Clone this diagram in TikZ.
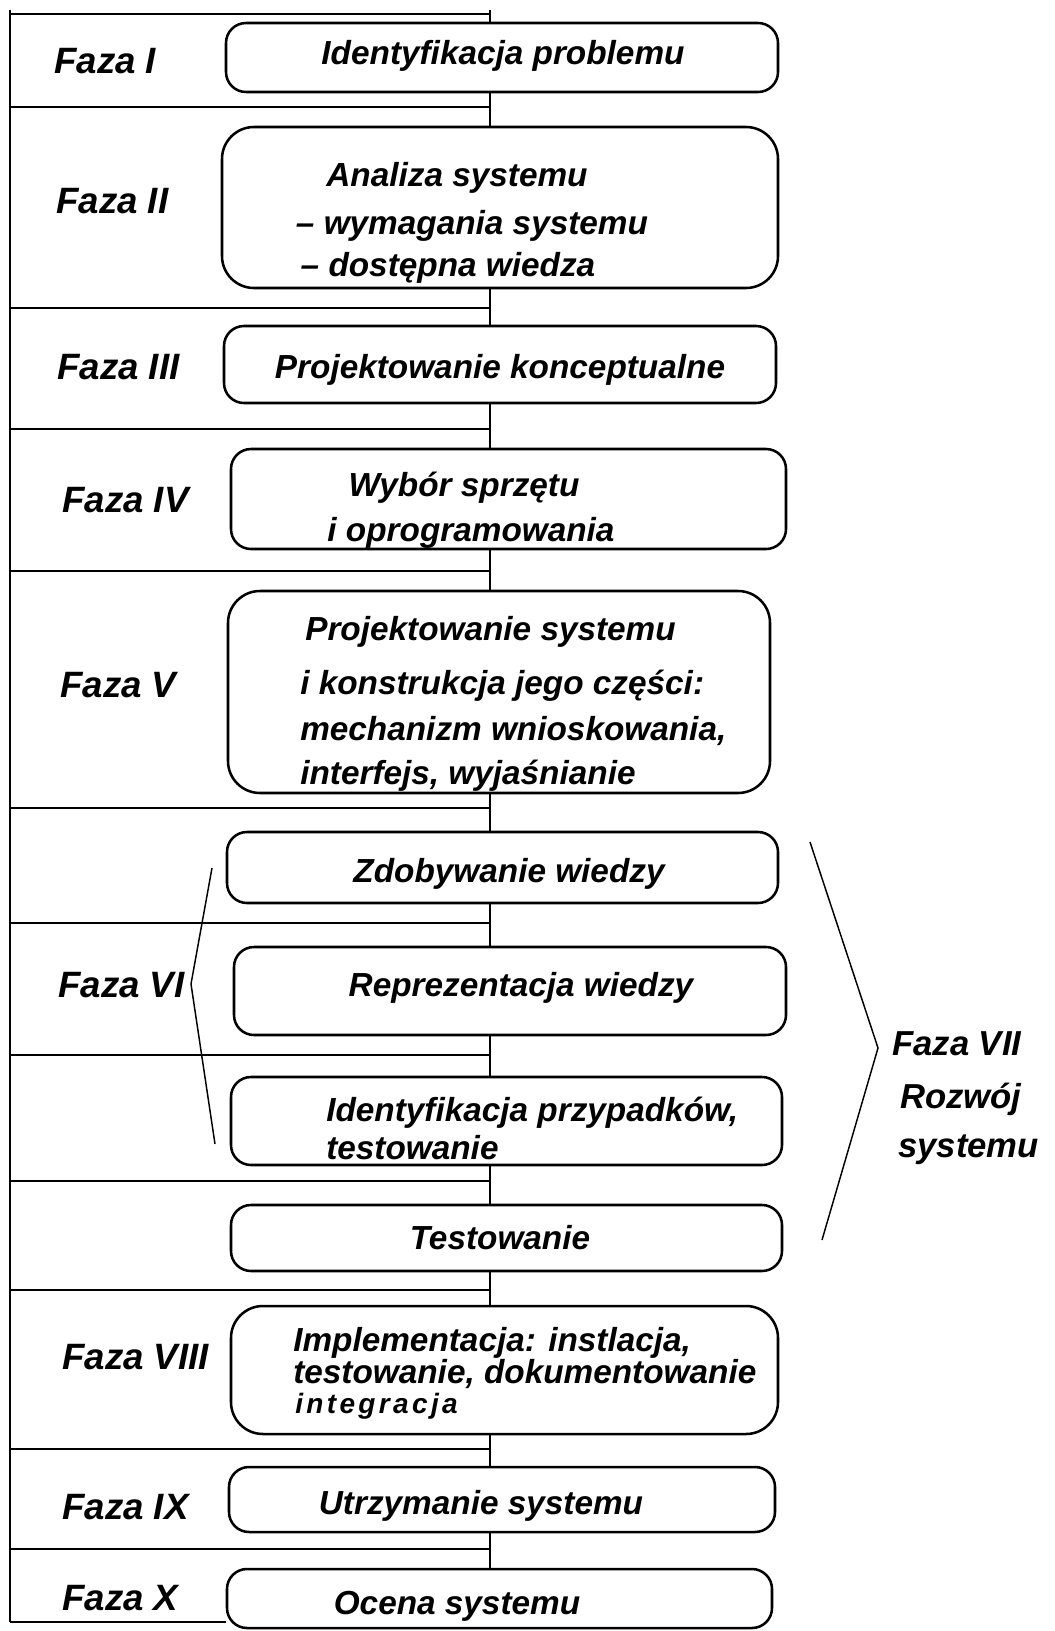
\documentclass[tikz,border=0pt]{standalone}
\usepackage{fontspec}
\setmainfont{Liberation Sans}
\usetikzlibrary{fit,calc}
\begin{document}
\begin{tikzpicture}[x=0.75pt,y=-0.75pt,
  frame/.style={line width=1.5pt},
  stage/.style={draw, line width=1.9pt, rounded corners=15pt, inner sep=0pt},
  bigstage/.style={stage, rounded corners=24pt},
  txt/.style={font=\fontsize{25}{30}\selectfont\bfseries\itshape, inner sep=0pt, text height=18pt, text depth=0pt},
  phase/.style={txt, font=\fontsize{27.5}{33}\selectfont\bfseries\itshape, text height=19.7pt},
  sidephase/.style={txt, font=\fontsize{26}{31}\selectfont\bfseries\itshape, text height=18.6pt},
  spaced/.style={font=\fontsize{21}{25}\selectfont\bfseries\itshape\addfontfeature{LetterSpace=12}, inner sep=0pt, text height=15pt, text depth=0pt},
  brace/.style={line width=1.1pt}]

\useasboundingbox (0,0) rectangle (1054,1631);
\fill[white] (0,0) rectangle (1054,1631);

% stage boxes
\node[stage,    fit={(226,23)(778,92)}]     (b1)  {};
\node[bigstage, fit={(222,127)(778,288)}]   (b2)  {};
\node[stage,    fit={(224,326)(776,403)}]   (b3)  {};
\node[stage,    fit={(231,449)(786,549)}]   (b4)  {};
\node[bigstage, fit={(228,591)(770,793)}]   (b5)  {};
\node[stage,    fit={(227,832)(778,903)}]   (b6)  {};
\node[stage,    fit={(234,947)(786,1035)}]  (b7)  {};
\node[stage,    fit={(231,1077)(782,1165)}] (b8)  {};
\node[stage,    fit={(231,1205)(782,1271)}] (b9)  {};
\node[bigstage, fit={(231,1306)(778,1434)}] (b10) {};
\node[stage,    fit={(229,1467)(775,1532)}] (b11) {};
\node[stage,    fit={(227,1569)(772,1628)}] (b12) {};

% left frame: spine and phase separators
\coordinate (sptop) at (10,10);
\coordinate (spbot) at (10,1622);
\coordinate (mid) at (490,10);
\draw[frame] (sptop) -- (spbot);
\foreach \y in {14,107,308,429,571,808,923,1055,1181,1290,1449,1549}
  \draw[frame] (10,\y) -- (490,\y);
\draw[frame] (spbot) -- (spbot -| b12.west);

% central connector through the stages
\draw[frame] (mid) -- (b1.north -| mid);
\foreach \a/\b in {b1/b2,b2/b3,b3/b4,b4/b5,b5/b6,b6/b7,b7/b8,b8/b9,b9/b10,b10/b11,b11/b12}
  \draw[frame] (\a.south -| mid) -- (\b.north -| mid);

% stage texts
\node[txt] (t1) at (503,52) {Identyfikacja problemu};
\node[txt] (t2a) at (457,174) {Analiza systemu};
\node[txt] (t2b) at (472,222) {– wymagania systemu};
\node[txt] (t2c) at (448,264) {– dostępna wiedza};
\node[txt] (t3) at (500,366) {Projektowanie konceptualne};
\node[txt] (t4a) at (464,484) {Wybór sprzętu};
\node[txt] (t4b) at (471,529) {i oprogramowania};
\node[txt, anchor=west] (t5a) at (305,628) {Projektowanie systemu};
\node[txt, anchor=west] (t5b) at (300,682) {i konstrukcja jego części:};
\node[txt, anchor=west] (t5c) at (300,728) {mechanizm wnioskowania,};
\node[txt, anchor=west] (t5d) at (300,772) {interfejs, wyjaśnianie};
\node[txt] (t6) at (509,870) {Zdobywanie wiedzy};
\node[txt] (t7) at (521,984) {Reprezentacja wiedzy};
\node[txt, anchor=west] (t8a) at (326,1109) {Identyfikacja przypadków,};
\node[txt, anchor=west] (t8b) at (326,1147) {testowanie};
\node[txt] (t9) at (500,1237) {Testowanie};
\node[txt, anchor=west] (t10a) at (293,1339) {Implementacja: instlacja,};
\node[txt, anchor=west] (t10b) at (293,1371) {testowanie, dokumentowanie};
\node[spaced, anchor=west] (t10c) at (295,1403) {integracja};
\node[txt] (t11) at (481,1502) {Utrzymanie systemu};
\node[txt] (t12) at (457,1602) {Ocena systemu};

% phase labels
\node[phase, anchor=west] (f1) at (54,60) {Faza I};
\node[phase, anchor=west] (f2) at (56,200) {Faza II};
\node[phase, anchor=west] (f3) at (57,366) {Faza III};
\node[phase, anchor=west] (f4) at (62,499) {Faza IV};
\node[phase, anchor=west] (f5) at (60,684) {Faza V};
\node[phase, anchor=west] (f6) at (58,984) {Faza VI};
\node[phase, anchor=west] (f8) at (62,1356) {Faza VIII};
\node[phase, anchor=west] (f9) at (62,1506) {Faza IX};
\node[phase, anchor=west] (f10) at (62,1597) {Faza X};

% bracket grouping phase VI
\coordinate (l1) at (212,868);
\coordinate (l2) at (191,984);
\coordinate (l3) at (215,1144);
\draw[brace] (l1) -- (l2) -- (l3);

% bracket grouping phase VII
\coordinate (r1) at (810,842);
\coordinate (r2) at (878,1048);
\coordinate (r3) at (822,1240);
\draw[brace] (r1) -- (r2) -- (r3);
\node[sidephase, anchor=west] (f7a) at (892,1043) {Faza VII};
\node[sidephase, anchor=west] (f7b) at (900,1096) {Rozwój};
\node[sidephase, anchor=west] (f7c) at (898,1145) {systemu};

\end{tikzpicture}
\end{document}
